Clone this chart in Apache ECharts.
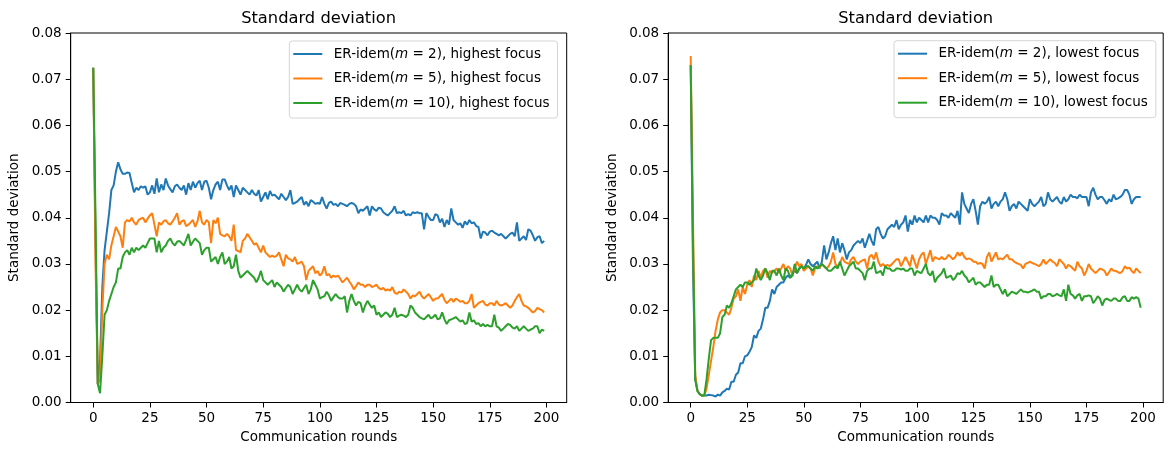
<!DOCTYPE html>
<html><head><meta charset="utf-8">
<script src="https://cdn.jsdelivr.net/npm/echarts@6/dist/echarts.min.js"></script>
<style>html,body{margin:0;padding:0;background:#fff}#c{width:1174px;height:456px}</style>
</head><body><div id="c"></div><script>
const panelTitle = 'Standard deviation';
const xAxisName = 'Communication rounds';
const yAxisName = 'Standard deviation';
const xTicks = [0, 25, 50, 75, 100, 125, 150, 175, 200];
const namesHigh = ['ER-idem(m = 2), highest focus', 'ER-idem(m = 5), highest focus', 'ER-idem(m = 10), highest focus'];
const namesLow = ['ER-idem(m = 2), lowest focus', 'ER-idem(m = 5), lowest focus', 'ER-idem(m = 10), lowest focus'];

const highM2 = [
.0725,.035,.004,.009,.025,.033,.037,.041,.046,.047,
.050,.052,.0505,.0495,.0495,.0498,.0497,.0475,.0455,.0465,
.046,.0468,.0465,.0468,.045,.0455,.047,.0452,.0485,.0455,
.0472,.046,.0485,.047,.0462,.0455,.0468,.0472,.0465,.046,
.047,.045,.0475,.046,.0478,.0465,.0475,.048,.046,.0478,
.048,.0465,.044,.046,.0472,.0478,.046,.0483,.0483,.047,
.046,.047,.0445,.047,.046,.045,.0465,.046,.0455,.045,
.046,.0452,.0448,.046,.0435,.0445,.0455,.044,.0458,.0448,
.045,.0445,.044,.0452,.0445,.0438,.0445,.046,.043,.0432,
.0435,.044,.0445,.0428,.0435,.0425,.0438,.0435,.043,.0432,
.043,.0445,.043,.042,.0432,.0435,.0428,.043,.0425,.0432,
.043,.0428,.0425,.043,.0432,.043,.0425,.041,.0418,.0415,
.042,.0425,.0405,.0425,.0418,.0415,.0422,.042,.0412,.0408,
.0405,.041,.0415,.0425,.041,.0412,.041,.0415,.0405,.0408,
.0405,.0412,.041,.0412,.041,.041,.0375,.041,.0402,.0395,
.0395,.0408,.0405,.039,.0398,.038,.0395,.0385,.042,.0395,
.039,.0385,.0388,.0378,.0392,.0385,.0395,.0388,.039,.0382,
.038,.0355,.037,.0368,.0362,.037,.0372,.0368,.0365,.0362,
.0365,.036,.0355,.036,.0365,.0368,.036,.039,.035,.0355,
.036,.0352,.0375,.0372,.0362,.035,.0358,.036,.0345,.035];

const highM5 = [
.0725,.03,.004,.005,.02,.03,.032,.031,.034,.036,
.038,.037,.036,.0335,.039,.0395,.0392,.040,.039,.0385,
.0395,.0398,.040,.039,.0398,.0405,.041,.0385,.036,.039,
.0385,.0392,.0395,.0388,.0385,.0392,.040,.041,.0385,.0392,
.0395,.0382,.0385,.039,.0395,.038,.0392,.0415,.039,.0385,
.0395,.039,.0345,.0395,.0388,.040,.0365,.0362,.036,.0365,
.036,.035,.0385,.033,.0328,.0325,.035,.0355,.0365,.0358,
.035,.0342,.0345,.0335,.0325,.034,.0325,.032,.0315,.0318,
.0315,.0318,.0325,.031,.0295,.032,.0312,.031,.0305,.0315,
.030,.0302,.0305,.0295,.0265,.0285,.029,.0295,.028,.0285,
.0275,.028,.0295,.0275,.0278,.027,.0275,.0272,.0275,.0268,
.026,.0265,.027,.0262,.0255,.0245,.0252,.026,.0255,.0255,
.025,.0255,.0255,.025,.0252,.0255,.0248,.0245,.0248,.0242,
.0245,.0242,.025,.0238,.0235,.024,.0238,.0245,.024,.0235,
.0225,.0232,.023,.0235,.024,.023,.0225,.023,.0235,.0228,
.022,.0225,.0225,.023,.0235,.0222,.0215,.022,.0225,.0218,
.0225,.0222,.0218,.022,.0215,.0215,.022,.0235,.0205,.021,
.0215,.0218,.022,.0212,.021,.0215,.0215,.021,.022,.0212,
.021,.0212,.0215,.021,.0205,.021,.022,.0228,.0235,.022,
.021,.0208,.0205,.020,.0195,.0198,.0205,.0202,.020,.0195];

const highM10 = [
.0725,.04,.004,.002,.010,.019,.020,.022,.0235,.025,
.026,.029,.029,.0315,.0325,.033,.032,.0335,.0325,.0335,
.033,.0335,.034,.0335,.0345,.0355,.0355,.0355,.0325,.035,
.0325,.0335,.034,.035,.0355,.0345,.034,.0348,.035,.0345,
.034,.0352,.0365,.034,.0348,.0355,.035,.0345,.032,.033,
.0335,.0335,.0305,.031,.0315,.030,.0315,.0325,.030,.0305,
.0315,.029,.0295,.032,.0285,.027,.0275,.028,.0285,.028,
.0275,.027,.026,.027,.0285,.0265,.026,.0255,.026,.0265,
.025,.026,.0255,.025,.024,.0248,.0255,.025,.0235,.0245,
.0255,.0245,.024,.0248,.0255,.0235,.0245,.0265,.0255,.0245,
.0225,.0228,.023,.024,.0232,.022,.0228,.0235,.0228,.0225,
.0225,.023,.0195,.022,.0235,.022,.021,.0218,.0215,.0195,
.021,.022,.0212,.0205,.021,.019,.0195,.0185,.019,.0195,
.0192,.0185,.019,.0205,.0185,.0188,.019,.0188,.0185,.019,
.021,.0205,.0195,.019,.0185,.0182,.018,.0185,.019,.0182,
.0185,.019,.018,.0182,.0195,.018,.017,.0178,.018,.0182,
.0185,.018,.0175,.0178,.017,.0172,.0195,.0175,.0178,.017,
.0172,.0165,.017,.0165,.0168,.0165,.0165,.019,.0165,.0162,
.0155,.016,.0165,.017,.0168,.0162,.016,.0165,.0155,.016,
.0165,.016,.0155,.0158,.016,.0165,.0165,.015,.0158,.0155];

const lowM2 = [
.073,.03,.005,.0025,.0018,.0015,.0015,.0015,.0017,.0016,
.0015,.0013,.0017,.0015,.0022,.0025,.003,.0028,.0045,.0045,
.006,.0065,.0085,.0085,.010,.0102,.011,.012,.0145,.014,
.0155,.016,.018,.0205,.0205,.022,.0245,.0235,.025,.0255,
.026,.026,.027,.0275,.027,.028,.0285,.028,.029,.0295,
.029,.0298,.031,.030,.0295,.030,.0305,.029,.0305,.034,
.031,.0325,.0345,.036,.033,.0355,.0325,.0345,.033,.031,
.0325,.033,.034,.0345,.035,.0345,.0355,.0335,.035,.0365,
.035,.034,.0375,.038,.0365,.0355,.036,.0375,.038,.0385,
.038,.0395,.0375,.0385,.039,.0405,.037,.0395,.0385,.0405,
.039,.040,.0395,.039,.0405,.039,.0405,.040,.040,.0395,
.0385,.041,.0405,.0405,.040,.041,.0405,.040,.0415,.0385,
.0455,.043,.042,.041,.043,.044,.0415,.0385,.0425,.0435,
.043,.0435,.0445,.042,.043,.0435,.0425,.0435,.044,.0455,
.044,.0415,.0425,.043,.042,.0435,.043,.0425,.042,.0415,
.044,.043,.0425,.043,.0435,.0445,.0425,.043,.0455,.044,
.0435,.044,.0445,.0435,.043,.0445,.0435,.044,.045,.0445,
.0445,.0442,.045,.0445,.0445,.0445,.0425,.0455,.0465,.045,
.044,.0445,.0445,.0438,.043,.044,.0435,.045,.044,.0442,
.0445,.045,.046,.046,.045,.043,.044,.0445,.0445,.0445];

const lowM5 = [
.075,.04,.006,.0025,.0018,.0015,.0015,.003,.006,.009,
.012,.0155,.018,.0195,.020,.020,.0195,.019,.0205,.0225,
.023,.0245,.022,.025,.0235,.0255,.0265,.025,.0275,.0265,
.0285,.027,.0285,.029,.027,.0285,.028,.0285,.029,.028,
.029,.030,.0285,.0295,.029,.0275,.029,.0305,.0295,.030,
.0285,.029,.0295,.029,.0275,.029,.0295,.0292,.030,.0295,
.029,.0295,.0305,.0325,.030,.0295,.030,.0315,.0305,.0302,
.030,.031,.0315,.0305,.030,.0305,.0308,.031,.029,.0315,
.032,.031,.0325,.0305,.0295,.030,.0295,.0298,.0295,.030,
.0305,.031,.031,.0295,.0305,.0315,.0305,.0295,.032,.0305,
.029,.031,.032,.0325,.030,.0315,.033,.0305,.0315,.0312,
.031,.0315,.031,.0312,.032,.0315,.031,.0315,.0325,.0318,
.0325,.0315,.031,.0312,.031,.0305,.0305,.030,.0302,.030,
.029,.0315,.0325,.0305,.0315,.0325,.031,.0312,.031,.0315,
.032,.031,.031,.0305,.0302,.030,.0298,.029,.030,.0302,
.0305,.0302,.030,.0298,.0295,.030,.031,.030,.0305,.031,
.0305,.0302,.0295,.031,.0305,.030,.029,.0298,.0295,.029,
.0285,.0305,.0295,.029,.0275,.0285,.030,.029,.0285,.028,
.0285,.029,.0288,.0285,.0275,.0282,.029,.0285,.0285,.0282,
.028,.0285,.0295,.029,.0292,.0285,.028,.029,.0285,.028];

const lowM10 = [
.073,.035,.005,.0025,.0018,.0015,.0015,.005,.0095,.0135,
.014,.014,.014,.015,.0185,.019,.021,.0205,.0215,.023,
.0245,.025,.0255,.025,.026,.026,.0255,.026,.0265,.029,
.0275,.0265,.0275,.029,.028,.0265,.0285,.0285,.0275,.029,
.0275,.0265,.029,.0285,.027,.0275,.030,.028,.029,.0295,
.029,.0295,.0295,.029,.0285,.0295,.029,.0295,.030,.0295,
.029,.0285,.0285,.029,.0295,.029,.0305,.029,.0275,.0285,
.0295,.030,.0305,.029,.029,.0285,.028,.0265,.0285,.029,
.029,.0305,.028,.0282,.0285,.0275,.0295,.029,.029,.0285,
.0285,.029,.029,.0288,.029,.0285,.0285,.029,.029,.0275,
.0285,.0282,.028,.029,.030,.028,.0275,.0285,.026,.027,
.0275,.028,.029,.027,.0272,.0275,.0265,.027,.028,.0278,
.0285,.0275,.027,.026,.0265,.027,.0255,.026,.026,.0255,
.025,.0255,.0255,.0275,.025,.0255,.0255,.0245,.0235,.0245,
.023,.0235,.024,.0238,.0235,.024,.0245,.024,.024,.0238,
.024,.0242,.0245,.024,.024,.0225,.023,.023,.0235,.0235,
.023,.0232,.0235,.0232,.023,.0245,.022,.0255,.0235,.0232,
.0225,.0232,.0235,.022,.023,.023,.0232,.023,.0215,.0222,
.023,.0225,.021,.0222,.0225,.0222,.022,.0225,.0225,.022,
.022,.0228,.023,.022,.022,.0228,.0225,.0228,.0225,.0205];

const colors = ['#1f77b4', '#ff7f0e', '#2ca02c'];
const FONT = 'DejaVu Sans';
const FS = 13.5;

function pairs(arr) { return arr.map((v, i) => [i, v]); }

const grids = [
  { left: 70.7, top: 33, width: 496, height: 369.5 },
  { left: 668.2, top: 33, width: 495, height: 369.5 }
];

function xAxisFor(gi) {
  return {
    type: 'value', gridIndex: gi, min: -9.95, max: 208.95,
    name: xAxisName, nameLocation: 'middle', nameGap: 27,
    nameTextStyle: { fontFamily: FONT, fontSize: FS, color: '#000' },
    axisLine: { show: true, onZero: false, lineStyle: { color: '#000', width: 1 } },
    axisTick: { show: true, length: 5, lineStyle: { color: '#000', width: 1 }, customValues: xTicks },
    axisLabel: { fontFamily: FONT, fontSize: FS, color: '#000', margin: 9, customValues: xTicks },
    splitLine: { show: false }
  };
}
function yAxisFor(gi) {
  return {
    type: 'value', gridIndex: gi, min: 0, max: 0.08, interval: 0.01,
    name: yAxisName, nameLocation: 'middle', nameGap: 49,
    nameTextStyle: { fontFamily: FONT, fontSize: FS, color: '#000' },
    axisLine: { show: true, onZero: false, lineStyle: { color: '#000', width: 1 } },
    axisTick: { show: true, length: 5, lineStyle: { color: '#000', width: 1 } },
    axisLabel: { fontFamily: FONT, fontSize: FS, color: '#000', margin: 9,
      formatter: v => v.toFixed(2) },
    splitLine: { show: false }
  };
}

const richM = { i: { fontStyle: 'italic', fontFamily: FONT, fontSize: FS, color: '#000' } };
function legendFor(names, left, top) {
  return {
    data: names, orient: 'vertical', left: left, top: top,
    icon: 'rect', itemWidth: 29, itemHeight: 2, itemGap: 8.5,
    padding: [5, 8, 7, 4],
    backgroundColor: 'rgba(255,255,255,0.8)', borderColor: '#d5d5d5', borderWidth: 1, borderRadius: 3,
    textStyle: { fontFamily: FONT, fontSize: FS, color: '#000', lineHeight: 16, padding: [0, 0, 0, 6.5], rich: richM },
    formatter: n => n.replace('(m', '({i|m}'),
    selectedMode: false
  };
}

const series = [];
[highM2, highM5, highM10].forEach((arr, k) => series.push({
  type: 'line', name: namesHigh[k], xAxisIndex: 0, yAxisIndex: 0, data: pairs(arr),
  showSymbol: false, symbol: 'none', lineStyle: { width: 2, color: colors[k] }, itemStyle: { color: colors[k] },
  animation: false
}));
[lowM2, lowM5, lowM10].forEach((arr, k) => series.push({
  type: 'line', name: namesLow[k], xAxisIndex: 1, yAxisIndex: 1, data: pairs(arr),
  showSymbol: false, symbol: 'none', lineStyle: { width: 2, color: colors[k] }, itemStyle: { color: colors[k] },
  animation: false
}));

const chart = echarts.init(document.getElementById('c'), null, { renderer: 'canvas' });
chart.setOption({
  backgroundColor: '#fff',
  animation: false,
  title: [
    { text: panelTitle, left: 318.6, top: 11, textAlign: 'center', padding: 0,
      textStyle: { fontFamily: FONT, fontSize: 16.3, fontWeight: 'normal', color: '#000' } },
    { text: panelTitle, left: 915.7, top: 11, textAlign: 'center', padding: 0,
      textStyle: { fontFamily: FONT, fontSize: 16.3, fontWeight: 'normal', color: '#000' } }
  ],
  grid: grids.map(g => Object.assign({ show: true, borderColor: '#000', borderWidth: 1, backgroundColor: 'transparent', containLabel: false }, g)),
  xAxis: [xAxisFor(0), xAxisFor(1)],
  yAxis: [yAxisFor(0), yAxisFor(1)],
  legend: [legendFor(namesHigh, 289.3, 41), legendFor(namesLow, 894, 40.7)],
  series: series
});
</script></body></html>
